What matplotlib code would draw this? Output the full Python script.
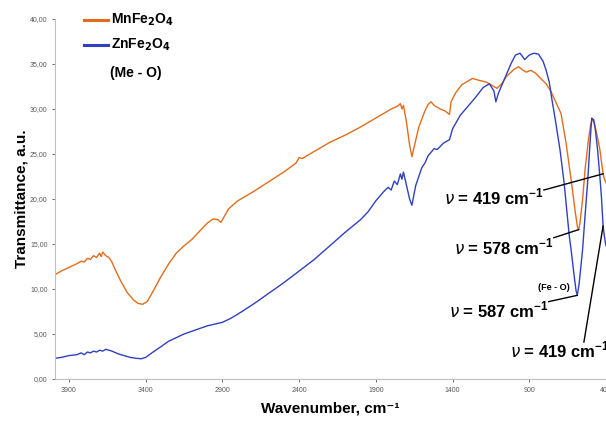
import matplotlib
matplotlib.use("Agg")
import matplotlib.pyplot as plt
import matplotlib.ticker as mticker

plt.rcParams.update({
    "font.family": ["Liberation Sans", "DejaVu Sans"],
    "mathtext.fontset": "dejavusans",
})

# FTIR spectra (wavenumber in cm-1, transmittance in a.u.)
mn_wn = [3990, 3950, 3900, 3850, 3820, 3800, 3780, 3760, 3740, 3720, 3700, 3690,
         3680, 3660, 3640, 3620, 3600, 3560, 3520, 3480, 3450, 3420, 3390, 3350,
         3300, 3250, 3200, 3150, 3100, 3050, 3000, 2960, 2930, 2910, 2890, 2860,
         2840, 2800, 2700, 2600, 2500, 2420, 2400, 2380, 2300, 2200, 2100, 2000,
         1900, 1800, 1760, 1740, 1730, 1720, 1700, 1680, 1665, 1650, 1620, 1580,
         1560, 1540, 1520, 1480, 1450, 1420, 1410, 1380, 1340, 1300, 1270, 1230,
         1180, 1140, 1110, 1080, 1050, 1000, 970, 940, 920, 890, 860, 820, 790,
         760, 720, 693, 660, 627, 600, 585, 578, 570, 553, 535, 515, 500, 490,
         480, 465, 450, 440, 430, 419, 410, 400]
mn_tr = [11.6, 12.0, 12.4, 12.8, 13.1, 13.0, 13.4, 13.3, 13.7, 13.5, 14.0, 13.6,
         14.1, 13.7, 13.5, 13.0, 12.2, 10.8, 9.6, 8.8, 8.4, 8.3, 8.6, 9.8,
         11.4, 12.8, 14.0, 14.8, 15.5, 16.4, 17.3, 17.8, 17.7, 17.4, 18.0, 18.9,
         19.2, 19.8, 20.8, 21.9, 23.0, 24.0, 24.6, 24.5, 25.3, 26.3, 27.1, 28.0,
         29.0, 30.0, 30.3, 30.6, 30.0, 30.4, 28.5, 26.0, 24.7, 25.8, 28.0, 29.8,
         30.5, 30.8, 30.4, 30.0, 29.8, 29.4, 30.8, 31.8, 32.7, 33.1, 33.4, 33.2,
         33.0, 32.6, 32.3, 32.8, 33.6, 34.4, 34.7, 34.3, 34.1, 34.3, 34.0, 33.3, 32.8,
         32.0, 30.5, 29.5, 26.2, 22.1, 18.5, 16.8, 16.6, 17.3, 19.9, 23.5, 26.5, 28.3, 28.8,
         28.6, 27.6, 26.4, 25.5, 24.2, 22.8, 22.2, 21.8]

zn_wn = [3990, 3950, 3900, 3850, 3820, 3800, 3780, 3760, 3740, 3720, 3700, 3680,
         3660, 3640, 3620, 3580, 3540, 3500, 3460, 3430, 3400, 3360, 3300, 3250,
         3200, 3150, 3100, 3050, 3000, 2950, 2900, 2850, 2800, 2700, 2600, 2500,
         2400, 2300, 2200, 2100, 2000, 1950, 1900, 1850, 1820, 1800, 1780, 1760,
         1740, 1730, 1720, 1700, 1680, 1665, 1655, 1640, 1620, 1600, 1580, 1560,
         1540, 1520, 1500, 1460, 1420, 1400, 1350, 1300, 1250, 1200, 1160, 1130,
         1118, 1100, 1060, 1020, 990, 960, 930, 900, 870, 840, 810, 790, 770, 750,
         733, 700, 673, 640, 627, 610, 595, 587, 575, 553, 537, 520, 505, 493,
         480, 470, 455, 440, 430, 419, 410, 400]
zn_tr = [2.3, 2.4, 2.6, 2.7, 2.9, 2.7, 3.0, 2.9, 3.1, 3.0, 3.2, 3.1,
         3.3, 3.2, 3.1, 2.8, 2.6, 2.4, 2.3, 2.25, 2.4, 2.9, 3.6, 4.2,
         4.6, 5.0, 5.3, 5.6, 5.9, 6.1, 6.3, 6.7, 7.2, 8.3, 9.5, 10.7,
         12.0, 13.3, 14.8, 16.3, 17.7, 18.6, 19.8, 20.8, 21.3, 21.0, 22.0, 21.6,
         22.8, 22.2, 23.0, 21.5, 20.0, 19.3, 20.2, 21.5, 22.5, 23.5, 24.0, 24.8,
         25.2, 25.6, 25.5, 26.2, 26.6, 27.8, 29.3, 30.3, 31.3, 32.4, 32.8, 32.0,
         30.8, 31.8, 33.4, 35.0, 36.0, 36.2, 35.5, 36.0, 36.2, 36.1, 35.3, 34.3, 33.0, 30.8,
         29.1, 25.5, 21.8, 16.0, 14.3, 11.8, 9.8, 9.3, 10.6, 14.3, 18.0, 21.8, 26.0, 29.0,
         28.8, 27.8, 25.5, 22.5, 20.3, 17.0, 15.8, 14.8]

x_ticks = [3900, 3400, 2900, 2400, 1900, 1400, 900, 400]
y_ticks = [0, 5, 10, 15, 20, 25, 30, 35, 40]

orange = "#E36C1A"
blue = "#3040C0"

fig = plt.figure(figsize=(6.06, 4.23), dpi=100)
ax = fig.add_axes([0.091, 0.104, 0.909, 0.851])

ax.plot(mn_wn, mn_tr, color=orange, lw=1.0)
ax.plot(zn_wn, zn_tr, color=blue, lw=1.0)

ax.set_xlim(3990, 400)
ax.set_ylim(0, 40)
ax.set_xticks(x_ticks)
ax.set_yticks(y_ticks)
ax.yaxis.set_major_formatter(mticker.FuncFormatter(lambda v, _: f"{v:.2f}".replace(".", ",")))
ax.tick_params(labelsize=5, colors="#595959", length=2, width=0.6)
for side in ["top", "right"]:
    ax.spines[side].set_visible(False)
for side in ["left", "bottom"]:
    ax.spines[side].set_color("#BFBFBF")
    ax.spines[side].set_linewidth(0.8)

ax.set_xlabel("Wavenumber, cm⁻¹", fontsize=11, fontweight="bold", labelpad=6)
ax.set_ylabel("Transmittance, a.u.", fontsize=11, fontweight="bold", labelpad=1)

# legend drawn by hand, in figure pixels
def fx(px):
    return px / 606

def fy(py):
    return 1 - py / 423

for py, col, lab in [(20, orange, r"MnFe$_\mathbf{2}$O$_\mathbf{4}$"),
                     (45, blue, r"ZnFe$_\mathbf{2}$O$_\mathbf{4}$")]:
    fig.add_artist(plt.Line2D([fx(84), fx(108)], [fy(py), fy(py)], color=col, lw=2.2))
    fig.text(fx(111), fy(py), lab, fontsize=10, fontweight="bold", va="center")
fig.text(fx(110), fy(73), "(Me - O)", fontsize=10, fontweight="bold", va="center")

# band assignments
def band_label(num):
    return r"$\nu$ = " + num + r" cm$^{\mathregular{-1}}$"

bands = [
    # text end (wn, tr), line start (wn, tr), tip (wn, tr), label
    ((805, 20.2), (805, 21.0), (419, 22.8), "419"),
    ((740, 14.7), (740, 15.7), (578, 16.6), "578"),
    ((773, 7.7), (773, 8.6), (587, 9.3), "587"),
]
for (tx, ty), (lx, ly), tip, num in bands:
    ax.text(tx, ty, band_label(num), fontsize=12, fontweight="bold",
            ha="right", va="center")
    ax.plot([lx, tip[0]], [ly, tip[1]], color="black", lw=1.0, clip_on=False)

ax.text(378, 3.2, band_label("419"), fontsize=12, fontweight="bold",
        ha="right", va="center", clip_on=False)
ax.plot([544, 419], [4.1, 17.0], color="black", lw=1.0, clip_on=False)
ax.text(740, 10.2, "(Fe - O)", fontsize=6.5, fontweight="bold", ha="center", va="center")

fig.savefig("out.png", dpi=100)
